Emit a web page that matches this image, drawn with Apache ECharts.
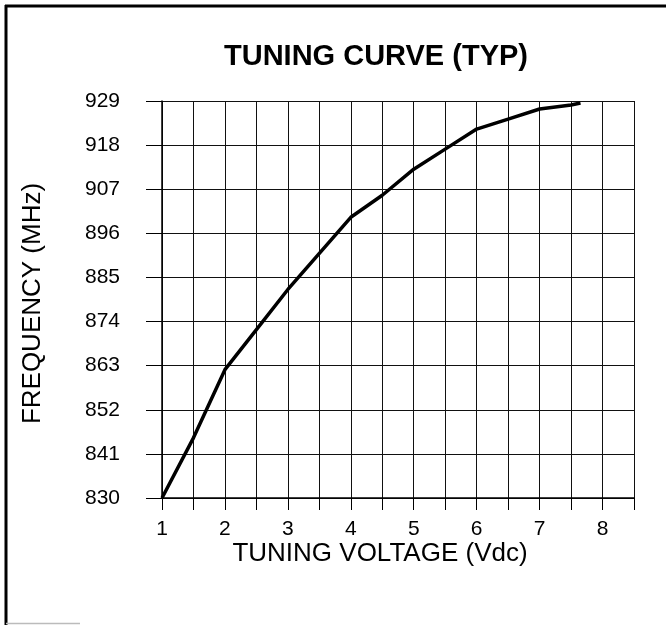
<!DOCTYPE html>
<html>
<head>
<meta charset="utf-8">
<script src="https://cdn.jsdelivr.net/npm/echarts@6/dist/echarts.min.js"></script>
<style>
html,body{margin:0;padding:0;background:#fff;}
#c{width:666px;height:625px;}
</style>
</head>
<body>
<div id="c"></div>
<script>
var voltage = [1, 1.5, 2, 2.5, 3, 3.5, 4, 4.5, 5, 5.5, 6, 6.5, 7, 7.5, 7.65];
var frequency = [830, 845, 862, 872, 882, 891, 900, 905.5, 912, 917, 922, 924.5, 927, 928, 928.5];
var xTicks = [1, 1.5, 2, 2.5, 3, 3.5, 4, 4.5, 5, 5.5, 6, 6.5, 7, 7.5, 8, 8.5];
var xLabels = [1, 2, 3, 4, 5, 6, 7, 8];
var yTicks = [830, 841, 852, 863, 874, 885, 896, 907, 918, 929];

var FONT = "'Liberation Sans', Arial, Helvetica, sans-serif";
var chart = echarts.init(document.getElementById('c'), null, {renderer: 'canvas'});
var points = voltage.map(function (v, i) { return [v, frequency[i]]; });

chart.setOption({
  animation: false,
  backgroundColor: '#fff',
  title: {
    text: 'TUNING CURVE (TYP)',
    left: 219,
    top: 37,
    textStyle: {fontFamily: FONT, fontSize: 29, fontWeight: 'bold', color: '#000'}
  },
  grid: {left: 162, right: 32, top: 101, bottom: 127, containLabel: false},
  xAxis: {
    type: 'value',
    min: 1, max: 8.5,
    name: 'TUNING VOLTAGE (Vdc)',
    nameLocation: 'middle',
    nameGap: 43,
    nameMoveOverlap: false,
    nameTextStyle: {fontFamily: FONT, fontSize: 26, color: '#000', padding: [0, 36, 0, 0]},
    axisLine: {show: true, lineStyle: {color: '#000', width: 1.5}},
    axisTick: {show: true, length: 12, inside: false, customValues: xTicks, lineStyle: {color: '#000', width: 1}},
    axisLabel: {show: true, customValues: xLabels, margin: 21, fontFamily: FONT, fontSize: 21, color: '#000'},
    splitLine: {show: true, lineStyle: {color: '#111', width: 1}}
  },
  yAxis: {
    type: 'value',
    min: 830, max: 929,
    name: 'FREQUENCY (MHz)',
    nameLocation: 'middle',
    nameGap: 116,
    nameRotate: 90,
    nameMoveOverlap: false,
    nameTextStyle: {fontFamily: FONT, fontSize: 26, color: '#000', padding: [0, 8, 0, 0]},
    axisLine: {show: true, lineStyle: {color: '#000', width: 1.5}},
    axisTick: {show: true, length: 16, customValues: yTicks, lineStyle: {color: '#000', width: 1}},
    axisLabel: {show: true, customValues: yTicks, margin: 42, fontFamily: FONT, fontSize: 21, color: '#000'},
    splitLine: {show: true, lineStyle: {color: '#111', width: 1}}
  },
  graphic: [
    {type: 'line', shape: {x1: 5, y1: 6, x2: 666, y2: 6}, style: {stroke: '#000', lineWidth: 3}},
    {type: 'line', shape: {x1: 6, y1: 5, x2: 6, y2: 625}, style: {stroke: '#000', lineWidth: 3}},
    {type: 'line', shape: {x1: 6, y1: 623.5, x2: 80, y2: 623.5}, style: {stroke: '#bbb', lineWidth: 1.5}}
  ],
  series: [{
    type: 'line',
    data: points,
    showSymbol: false,
    smooth: false,
    lineStyle: {color: '#000', width: 3.5},
    z: 5
  }]
});
</script>
</body>
</html>
